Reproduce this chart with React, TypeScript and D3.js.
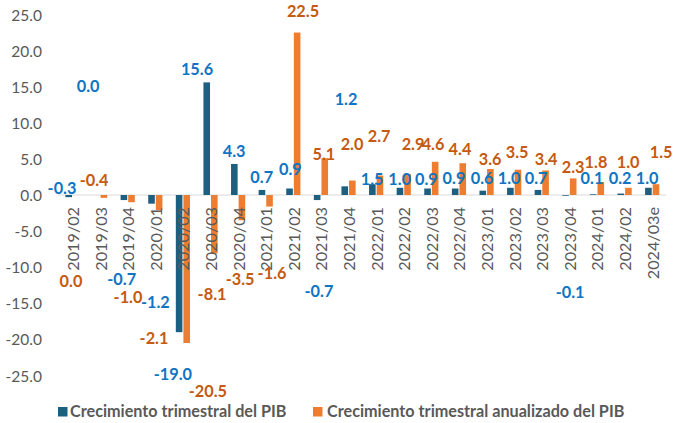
import React from "react";
import * as d3 from "d3";

const categories = [
  "2019/02", "2019/03", "2019/04", "2020/01", "2020/02", "2020/03", "2020/04",
  "2021/01", "2021/02", "2021/03", "2021/04", "2022/01", "2022/02", "2022/03",
  "2022/04", "2023/01", "2023/02", "2023/03", "2023/04", "2024/01", "2024/02", "2024/03e",
];

const quarterly = [
  -0.3, 0.0, -0.7, -1.2, -19.0, 15.6, 4.3, 0.7, 0.9, -0.7, 1.2, 1.5, 1.0, 0.9,
  0.9, 0.6, 1.0, 0.7, -0.1, 0.1, 0.2, 1.0,
];

const annualized = [
  0.0, -0.4, -1.0, -2.1, -20.5, -8.1, -3.5, -1.6, 22.5, 5.1, 2.0, 2.7, 2.9, 4.6,
  4.4, 3.6, 3.5, 3.4, 2.3, 1.8, 1.0, 1.5,
];

const yTicks = [25, 20, 15, 10, 5, 0, -5, -10, -15, -20, -25];

const seriesNames = [
  "Crecimiento trimestral del PIB",
  "Crecimiento trimestral anualizado del PIB",
];

// Manually placed data label anchors (value units for y, px offset for x), as in the source chart
const labelY1 = [1.1, 15.2, -11.6, -14.8, -24.7, 17.5, 6.2, 2.5, 3.7, -13.2, 13.4, 2.35, 2.35, 2.35, 2.45, 2.45, 2.45, 2.45, -13.4, 2.45, 2.45, 2.45];
const labelDx1 = [-10.5, -12, -6, 0, -10, -13.5, -4, -4, -3, -2, -2.5, -4, -4, -5, -5, -4.5, -5, -5.7, 0.7, -5, -4.5, -5];
const labelY2 = [-11.8, 2.1, -14.1, -19.7, -27.1, -13.7, -11.6, -10.8, 25.6, 5.8, 7.2, 8.3, 7.2, 7.2, 6.5, 5.1, 6.0, 5.1, 4.0, 4.7, 4.6, 6.0];
const labelDx2 = [-1.5, -6, 0.3, -1.3, 25, 1.5, 2, 6.3, 9.7, 3, 3.5, 3, 9.3, 1.7, 1, 3.5, 3, 4.3, 3.7, -1, 3.5, 9];

const W = 673;
const H = 423;
const BLUE = "#1D5F81";
const ORANGE = "#ED7D31";
const BLUE_TXT = "#0F75C3";
const ORANGE_TXT = "#C55A11";
const GRAY = "#595959";
const FONT = "Lato, 'Open Sans', sans-serif";

const fmt = (v: number) => d3.format(".1f")(v).replace("\u2212", "-");

export default function App() {
  const x = d3.scaleBand<string>().domain(categories).range([58.7, 666]).padding(0);
  const y = d3.scaleLinear().domain([-25, 25]).range([375.5, 14.5]);
  const bw = 6.6;
  const gap = 0.5;
  const cx = (c: string) => (x(c) as number) + x.bandwidth() / 2;

  return (
    <svg
      width={W}
      height={H}
      style={{ position: "absolute", left: 0, top: 0, background: "#fff" }}
      fontFamily={FONT}
    >
      {/* y axis labels */}
      {yTicks.map((t) => (
        <text
          key={t}
          x={42}
          y={y(t)}
          textAnchor="end"
          dominantBaseline="central"
          fontSize={15.5}
          fill={GRAY}
        >
          {fmt(t)}
        </text>
      ))}

      {/* zero line */}
      <line x1={58} x2={666} y1={y(0)} y2={y(0)} stroke="#D9D9D9" strokeWidth={1} />

      {/* bars */}
      {categories.map((c, i) => {
        const v1 = quarterly[i];
        const v2 = annualized[i];
        return (
          <g key={c}>
            <rect
              x={cx(c) - gap - bw}
              y={Math.min(y(v1), y(0))}
              width={bw}
              height={Math.abs(y(v1) - y(0))}
              fill={BLUE}
            />
            <rect
              x={cx(c) + gap}
              y={Math.min(y(v2), y(0))}
              width={bw}
              height={Math.abs(y(v2) - y(0))}
              fill={ORANGE}
            />
          </g>
        );
      })}

      {/* x axis labels */}
      {categories.map((c) => (
        <text
          key={c}
          transform={`translate(${cx(c)},207) rotate(-90)`}
          textAnchor="end"
          dominantBaseline="central"
          fontSize={16.2}
          fill={GRAY}
        >
          {c}
        </text>
      ))}

      {/* data labels */}
      {categories.map((c, i) => (
        <g key={c}>
          <text
            x={cx(c) + labelDx1[i]}
            y={y(labelY1[i])}
            textAnchor="middle"
            dominantBaseline="central"
            fontSize={16.3}
            fontWeight="bold"
            fill={BLUE_TXT}
          >
            {fmt(quarterly[i])}
          </text>
          <text
            x={cx(c) + labelDx2[i]}
            y={y(labelY2[i])}
            textAnchor="middle"
            dominantBaseline="central"
            fontSize={16.3}
            fontWeight="bold"
            fill={ORANGE_TXT}
          >
            {fmt(annualized[i])}
          </text>
        </g>
      ))}

      {/* legend */}
      <rect x={58} y={407} width={9.5} height={9.5} fill={BLUE} />
      <text x={70} y={417} fontSize={16.2} fontWeight="bold" fill={GRAY}>
        {seriesNames[0]}
      </text>
      <rect x={313} y={407} width={9.5} height={9.5} fill={ORANGE} />
      <text x={327} y={417} fontSize={16.2} fontWeight="bold" fill={GRAY}>
        {seriesNames[1]}
      </text>
    </svg>
  );
}
